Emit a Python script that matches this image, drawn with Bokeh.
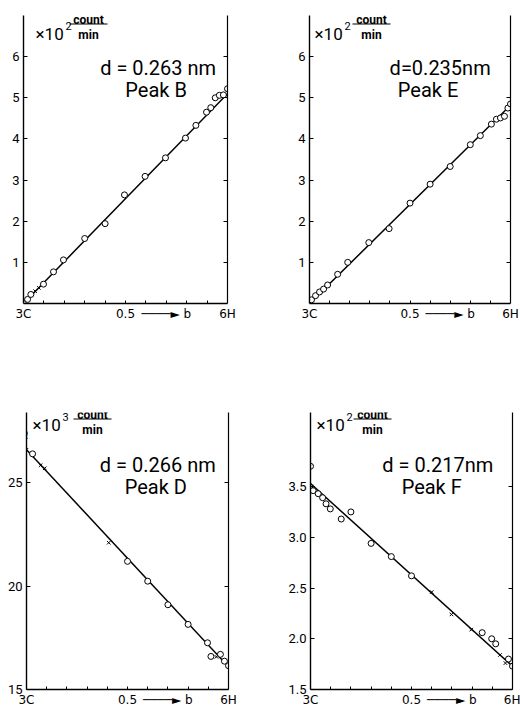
from bokeh.plotting import figure
from bokeh.models import Label, LinearAxis, FixedTicker, Range1d
from bokeh.layouts import column, row
from bokeh.embed import file_html
from bokeh.resources import INLINE

# ---------------- data ----------------
x_major = [0.0, 0.5, 0.70, 1.0]
x_labels = ["3C", "0.5", "\u2500\u2500\u2500\u2500\u25ba b", "6H"]
x_minor = [0.1, 0.2, 0.3, 0.4, 0.5, 0.6, 0.7, 0.8, 0.9]

# Peak B
b_xo = [0.0, 0.02, 0.036, 0.098, 0.147, 0.196, 0.30, 0.40, 0.495, 0.596, 0.696,
        0.794, 0.845, 0.897, 0.918, 0.94, 0.96, 0.98, 1.0]
b_yo = [0.0, 0.10, 0.22, 0.47, 0.77, 1.06, 1.58, 1.94, 2.64, 3.09, 3.54,
        4.02, 4.33, 4.65, 4.76, 5.0, 5.06, 5.07, 5.22]
b_xx = [0.057, 0.075]
b_yx = [0.30, 0.38]
b_line_x = [0.0, 1.0]
b_line_y = [0.0, 5.1]
b_yticks = [1, 2, 3, 4, 5, 6]

# Peak E
e_xo = [0.0, 0.01, 0.03, 0.05, 0.07, 0.09, 0.14, 0.19, 0.295, 0.396, 0.5, 0.60,
        0.70, 0.80, 0.85, 0.905, 0.93, 0.95, 0.97, 0.987, 1.0]
e_yo = [0.02, 0.09, 0.19, 0.28, 0.35, 0.45, 0.71, 1.0, 1.48, 1.82, 2.44, 2.90,
        3.33, 3.86, 4.08, 4.36, 4.48, 4.51, 4.55, 4.75, 4.85]
e_xx = []
e_yx = []
e_line_x = [0.0, 1.0]
e_line_y = [0.0, 4.82]
e_yticks = [1, 2, 3, 4, 5, 6]

# Peak D
d_xo = [0.03, 0.5, 0.6, 0.70, 0.80, 0.896, 0.913, 0.96, 0.98, 1.0]
d_yo = [26.4, 21.2, 20.24, 19.1, 18.15, 17.26, 16.6, 16.7, 16.37, 16.15]
d_xx = [0.0, 0.07, 0.09, 0.407, 0.94]
d_yx = [26.6, 25.85, 25.7, 22.1, 16.58]
d_line_x = [0.0, 1.0]
d_line_y = [26.6, 16.1]
d_yticks = [15, 20, 25]
d_ylabels = ["15", "20", "25"]

# Peak F
f_xo = [0.0, 0.013, 0.038, 0.06, 0.077, 0.098, 0.152, 0.2, 0.30, 0.40, 0.50,
        0.85, 0.897, 0.917, 0.98, 1.0]
f_yo = [3.70, 3.46, 3.43, 3.39, 3.33, 3.28, 3.18, 3.25, 2.94, 2.81, 2.62,
        2.06, 2.0, 1.95, 1.80, 1.73]
f_xx = [0.005, 0.60, 0.698, 0.796, 0.938, 0.965]
f_yx = [3.5, 2.46, 2.24, 2.09, 1.84, 1.76]
f_line_x = [0.0, 1.0]
f_line_y = [3.53, 1.73]
f_yticks = [1.5, 2.0, 2.5, 3.0, 3.5]
f_ylabels = ["1.5", "2.0", "2.5", "3.0", "3.5"]

FONT = "Roboto"


def panel(w, h, bl, br, bt, bb, yr, yticks, ylabels, xo, yo, xx, yx, lx, ly,
          exp, dtext, peak, d_x, peak_x, mult_dx, frac_dx, offs, brk=False):
    p = figure(width=w, height=h, x_range=Range1d(0, 1), y_range=Range1d(*yr),
               output_backend="svg", toolbar_location=None,
               min_border_left=bl, min_border_right=br,
               min_border_top=bt, min_border_bottom=bb)
    p.outline_line_color = None
    p.grid.visible = False
    p.background_fill_color = "white"
    p.border_fill_color = "white"

    fw = w - bl - br
    fh = h - bt - bb
    sx = 1.0 / fw
    sy = (yr[1] - yr[0]) / fh

    # axes
    xa = p.xaxis[0]
    xa.ticker = FixedTicker(ticks=x_major, minor_ticks=x_minor)
    xa.major_label_overrides = {t: l for t, l in zip(x_major, x_labels)}
    xa.major_tick_in = 0
    xa.major_tick_out = 0
    xa.minor_tick_in = 3
    xa.minor_tick_out = 0
    xa.major_label_standoff = 3
    xa.axis_line_width = 1.4
    xa.major_label_text_font = "DejaVu Sans"
    xa.major_label_text_font_size = "12px"
    xa.major_label_text_color = "black"

    ya = p.yaxis[0]
    ya.ticker = FixedTicker(ticks=yticks, minor_ticks=[])
    ya.major_label_overrides = {t: l for t, l in zip(yticks, ylabels)}
    ya.major_tick_in = 4
    ya.major_tick_out = 0
    ya.minor_tick_in = 0
    ya.minor_tick_out = 0
    ya.major_label_standoff = 4
    ya.axis_line_width = 1.4
    ya.major_label_text_font = FONT
    ya.major_label_text_font_size = "13px"
    ya.major_label_text_color = "black"

    ra = LinearAxis(ticker=FixedTicker(ticks=yticks, minor_ticks=[]),
                    major_label_overrides={t: "" for t in yticks},
                    major_tick_in=4, major_tick_out=0, minor_tick_in=0,
                    minor_tick_out=0, major_label_standoff=0,
                    axis_line_width=1.2)
    p.add_layout(ra, "right")

    # fit line and points
    p.line(lx, ly, line_color="black", line_width=1.5)
    p.scatter(xo, yo, marker="circle", size=6, fill_color="white",
              line_color="black", line_width=1)
    if xx:
        p.scatter(xx, yx, marker="x", size=5, line_color="black", line_width=1)

    x0 = 0.0
    y1 = yr[1]
    o_mult, o_count, o_bar, o_min = offs
    # x10^n count/min
    p.add_layout(Label(x=x0, y=y1, x_offset=mult_dx, y_offset=o_mult, text="\u00d710",
                       text_font=FONT, text_font_size="17px", text_color="black",
                       text_baseline="alphabetic"))
    p.add_layout(Label(x=x0, y=y1, x_offset=mult_dx + 30, y_offset=o_mult + 8, text=exp,
                       text_font=FONT, text_font_size="11px", text_color="black",
                       text_baseline="alphabetic"))
    p.add_layout(Label(x=x0, y=y1, x_offset=frac_dx, y_offset=o_count, text="count",
                       text_font=FONT, text_font_size="12px", text_font_style="bold",
                       text_color="black", text_align="center",
                       text_baseline="alphabetic"))
    p.add_layout(Label(x=x0, y=y1, x_offset=frac_dx, y_offset=o_min, text="min",
                       text_font=FONT, text_font_size="12px", text_font_style="bold",
                       text_color="black", text_align="center",
                       text_baseline="alphabetic"))
    p.segment(x0=[(frac_dx - 19) * sx], y0=[y1 + o_bar * sy],
              x1=[(frac_dx + 19) * sx], y1=[y1 + o_bar * sy],
              line_color="black", line_width=1.2)
    if brk:
        p.add_layout(Label(x=x0, y=y1, x_offset=0, y_offset=-22, text="\u2240",
                           text_font="DejaVu Sans", text_font_size="13px",
                           text_color="black", text_align="center",
                           text_baseline="alphabetic"))

    p.add_layout(Label(x=d_x, y=y1, y_offset=-52, text=dtext, text_font=FONT,
                       text_font_size="20px", text_color="black", text_align="center",
                       text_baseline="alphabetic"))
    p.add_layout(Label(x=peak_x, y=y1, y_offset=-74, text=peak, text_font=FONT,
                       text_font_size="20px", text_color="black", text_align="center",
                       text_baseline="alphabetic"))
    return p


top_offs = (-18, -4, -8.5, -19)
bot_offs = (-12, -2, -6.5, -17)

pB = panel(260, 340, 23, 33, 15, 37, (0, 7.0), b_yticks, [str(t) for t in b_yticks],
           b_xo, b_yo, b_xx, b_yx, b_line_x, b_line_y,
           "2", "d = 0.263 nm", "Peak B", 0.66, 0.65, 12, 65, top_offs)
pE = panel(260, 340, 49, 10, 15, 37, (0, 7.0), e_yticks, [str(t) for t in e_yticks],
           e_xo, e_yo, e_xx, e_yx, e_line_x, e_line_y,
           "2", "d=0.235nm", "Peak E", 0.65, 0.59, 5, 62, top_offs)
pD = panel(260, 369, 26, 32, 72, 19, (15, 28.4), d_yticks, d_ylabels,
           d_xo, d_yo, d_xx, d_yx, d_line_x, d_line_y,
           "3", "d = 0.266 nm", "Peak D", 0.65, 0.64, 6, 66, bot_offs, brk=True)
pF = panel(260, 369, 50, 8, 72, 19, (1.5, 4.23), f_yticks, f_ylabels,
           f_xo, f_yo, f_xx, f_yx, f_line_x, f_line_y,
           "2", "d = 0.217nm", "Peak F", 0.63, 0.60, 6, 62, bot_offs)

layout = column(row(pB, pE), row(pD, pF))
open("out.html", "w").write(file_html(layout, INLINE))
